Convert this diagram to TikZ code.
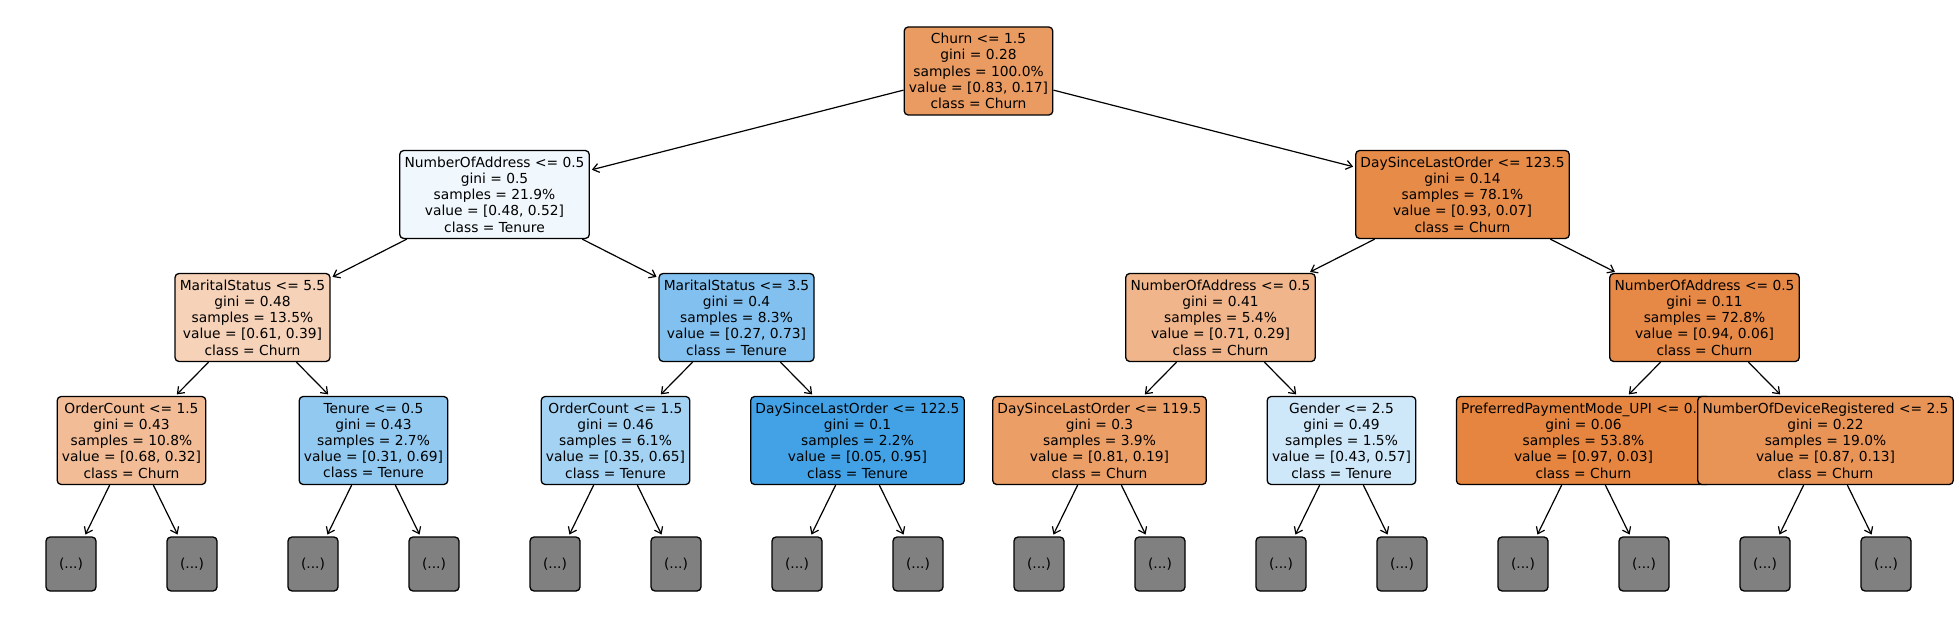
\documentclass[tikz,border=0pt]{standalone}
\usepackage{fontspec}
\setmainfont{DejaVu Sans}
\usetikzlibrary{arrows.meta}
\definecolor{c1}{RGB}{234,155,98}
\definecolor{c2}{RGB}{240,247,253}
\definecolor{c3}{RGB}{231,139,72}
\definecolor{c4}{RGB}{246,210,184}
\definecolor{c5}{RGB}{130,193,239}
\definecolor{c6}{RGB}{240,181,138}
\definecolor{c7}{RGB}{231,137,70}
\definecolor{c8}{RGB}{241,188,150}
\definecolor{c9}{RGB}{146,201,241}
\definecolor{c10}{RGB}{164,210,243}
\definecolor{c11}{RGB}{67,162,230}
\definecolor{c12}{RGB}{235,159,103}
\definecolor{c13}{RGB}{206,231,249}
\definecolor{c14}{RGB}{230,133,63}
\definecolor{c15}{RGB}{233,148,87}
\definecolor{leafgray}{RGB}{128,128,128}
\tikzset{
  tnode/.style={draw=black, line width=0.65pt, rounded corners=2pt, align=center,
    font=\fontsize{6.9pt}{8.1pt}\selectfont, inner xsep=2.4pt, inner ysep=0pt,
    minimum height=44pt},
  leafbox/.style={draw=black, line width=0.65pt, rounded corners=2pt, fill=leafgray,
    font=\fontsize{6.9pt}{8.1pt}\selectfont, minimum width=25pt, minimum height=27pt, inner sep=0pt},
  edge/.style={line width=0.6pt, -{Straight Barb[length=3pt,width=4.5pt]}, shorten >=1pt}
}
\begin{document}
\begin{tikzpicture}[x=0.5pt,y=-0.5pt]
\useasboundingbox (0,0) rectangle (1960,636);
% root
\node[tnode, fill=c1] (r) at (978.5,71) {Churn <= 1.5\\gini = 0.28\\samples = 100.0\%\\value = [0.83, 0.17]\\class = Churn};
% level 1
\node[tnode, fill=c2] (a) at (494.5,194.5) {NumberOfAddress <= 0.5\\gini = 0.5\\samples = 21.9\%\\value = [0.48, 0.52]\\class = Tenure};
\node[tnode, fill=c3] (b) at (1462.5,194.5) {DaySinceLastOrder <= 123.5\\gini = 0.14\\samples = 78.1\%\\value = [0.93, 0.07]\\class = Churn};
% level 2
\node[tnode, fill=c4] (aa) at (252.5,317.5) {MaritalStatus <= 5.5\\gini = 0.48\\samples = 13.5\%\\value = [0.61, 0.39]\\class = Churn};
\node[tnode, fill=c5] (ab) at (736.5,317.5) {MaritalStatus <= 3.5\\gini = 0.4\\samples = 8.3\%\\value = [0.27, 0.73]\\class = Tenure};
\node[tnode, fill=c6] (ba) at (1220.5,317.5) {NumberOfAddress <= 0.5\\gini = 0.41\\samples = 5.4\%\\value = [0.71, 0.29]\\class = Churn};
\node[tnode, fill=c7] (bb) at (1704.5,317.5) {NumberOfAddress <= 0.5\\gini = 0.11\\samples = 72.8\%\\value = [0.94, 0.06]\\class = Churn};
% level 3
\node[tnode, fill=c8] (aaa) at (131.5,440.5) {OrderCount <= 1.5\\gini = 0.43\\samples = 10.8\%\\value = [0.68, 0.32]\\class = Churn};
\node[tnode, fill=c9] (aab) at (373.5,440.5) {Tenure <= 0.5\\gini = 0.43\\samples = 2.7\%\\value = [0.31, 0.69]\\class = Tenure};
\node[tnode, fill=c10] (aba) at (615.5,440.5) {OrderCount <= 1.5\\gini = 0.46\\samples = 6.1\%\\value = [0.35, 0.65]\\class = Tenure};
\node[tnode, fill=c11] (abb) at (857.5,440.5) {DaySinceLastOrder <= 122.5\\gini = 0.1\\samples = 2.2\%\\value = [0.05, 0.95]\\class = Tenure};
\node[tnode, fill=c12] (baa) at (1099.5,440.5) {DaySinceLastOrder <= 119.5\\gini = 0.3\\samples = 3.9\%\\value = [0.81, 0.19]\\class = Churn};
\node[tnode, fill=c13] (bab) at (1341.5,440.5) {Gender <= 2.5\\gini = 0.49\\samples = 1.5\%\\value = [0.43, 0.57]\\class = Tenure};
\node[tnode, fill=c14] (bba) at (1583.5,440.5) {PreferredPaymentMode\_UPI <= 0.5\\gini = 0.06\\samples = 53.8\%\\value = [0.97, 0.03]\\class = Churn};
\node[tnode, fill=c15] (bbb) at (1825.5,440.5) {NumberOfDeviceRegistered <= 2.5\\gini = 0.22\\samples = 19.0\%\\value = [0.87, 0.13]\\class = Churn};
% leaves
\foreach \i in {0,...,15} {
  \node[leafbox] (l\i) at ({71+121*\i},564) {(...)};
}
% edges
\draw[edge] (r) -- (a);
\draw[edge] (r) -- (b);
\draw[edge] (a) -- (aa);
\draw[edge] (a) -- (ab);
\draw[edge] (b) -- (ba);
\draw[edge] (b) -- (bb);
\draw[edge] (aa) -- (aaa);
\draw[edge] (aa) -- (aab);
\draw[edge] (ab) -- (aba);
\draw[edge] (ab) -- (abb);
\draw[edge] (ba) -- (baa);
\draw[edge] (ba) -- (bab);
\draw[edge] (bb) -- (bba);
\draw[edge] (bb) -- (bbb);
\foreach \p/\a/\b in {aaa/0/1, aab/2/3, aba/4/5, abb/6/7, baa/8/9, bab/10/11, bba/12/13, bbb/14/15} {
  \draw[edge] (\p) -- (l\a);
  \draw[edge] (\p) -- (l\b);
}
\end{tikzpicture}
\end{document}
